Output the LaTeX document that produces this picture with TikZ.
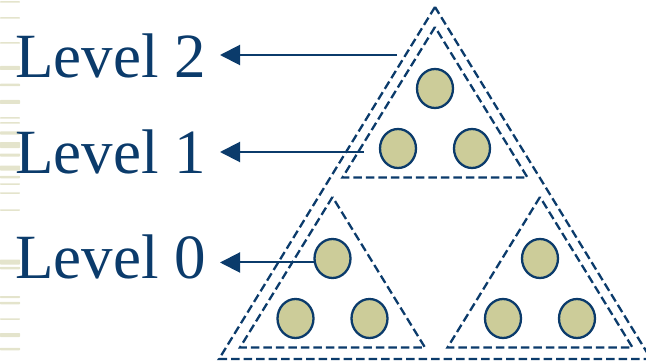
\documentclass[tikz,border=0pt]{standalone}
\usepackage{fontspec}
\setmainfont{Liberation Serif}
\usepackage{tikz}
\usetikzlibrary{arrows.meta, shapes.geometric, calc}
\definecolor{navy}{HTML}{0B3B6B}
\definecolor{khaki}{HTML}{CCCC99}
\definecolor{stripe}{HTML}{E4E4CC}

\begin{document}
\begin{tikzpicture}[
    x=1pt, y=-1pt,
    level/.style={
        font=\fontsize{63}{70}\selectfont, text=navy,
        anchor=base east, inner xsep=14pt, inner ysep=0pt,
    },
    hull/.style={
        draw=navy, line width=2.3pt, dash pattern=on 8.5pt off 4pt,
    },
    ball/.style={
        ellipse, draw=navy, line width=2.3pt, fill=khaki,
        minimum width=36pt, minimum height=39pt, inner sep=0pt,
    },
    pointer/.style={
        draw=navy, line width=2pt, -{Triangle[length=20pt, width=20pt]},
    },
]
\useasboundingbox (0,0) rectangle (646,361);

% ── Slide stripes on the left edge ─────────────────────────────────────────
\foreach \y/\h in {2/1.5, 18/1.5, 43/1.5, 68/4, 85/2.5, 102/4, 118/1.5,
                   123/1.5, 133/3, 145/6, 155/3, 168/5, 177/2.5, 184/1.5,
                   193/1.5, 210/1.5, 262/5, 268/2.5, 297/2, 303/2.5,
                   319/1.5, 335/4, 349/2.5}
    \fill[stripe, rounded corners=0.7pt] (0,\y-\h/2) rectangle (20,\y+\h/2);

% ── Whole tree (outer hull) ────────────────────────────────────────────────
\coordinate (all-apex) at (435,7);
\draw[hull] (all-apex) -- (219,359) -- (651,359) -- cycle;

% ── Three sub-trees ────────────────────────────────────────────────────────
\foreach \name/\ax/\ay in {up/435/27, lft/332.5/197, rgt/540/197} {
    \coordinate (\name-apex) at (\ax,\ay);
    \draw[hull] (\name-apex) -- ++(-92.5,150.5) -- ++(185,0) -- cycle;
    \node[ball] (\name-top) at ($(\name-apex)+(0,61.5)$) {};
    \node[ball] (\name-bl)  at ($(\name-apex)+(-37,121.5)$) {};
    \node[ball] (\name-br)  at ($(\name-apex)+(37,121.5)$) {};
}

% ── Level labels ───────────────────────────────────────────────────────────
\node[level] (l2) at (220,78)  {Level 2};
\node[level] (l1) at (220,173) {Level 1};
\node[level] (l0) at (220,278) {Level 0};

\coordinate (a2) at (397,55);
\coordinate (a1) at (364,152);

\draw[pointer] (a2) -- (a2 -| l2.east);
\draw[pointer] (a1) -- (a1 -| l1.east);
\draw[pointer] (lft-top.192) -- (lft-top.192 -| l0.east);

\end{tikzpicture}
\end{document}
